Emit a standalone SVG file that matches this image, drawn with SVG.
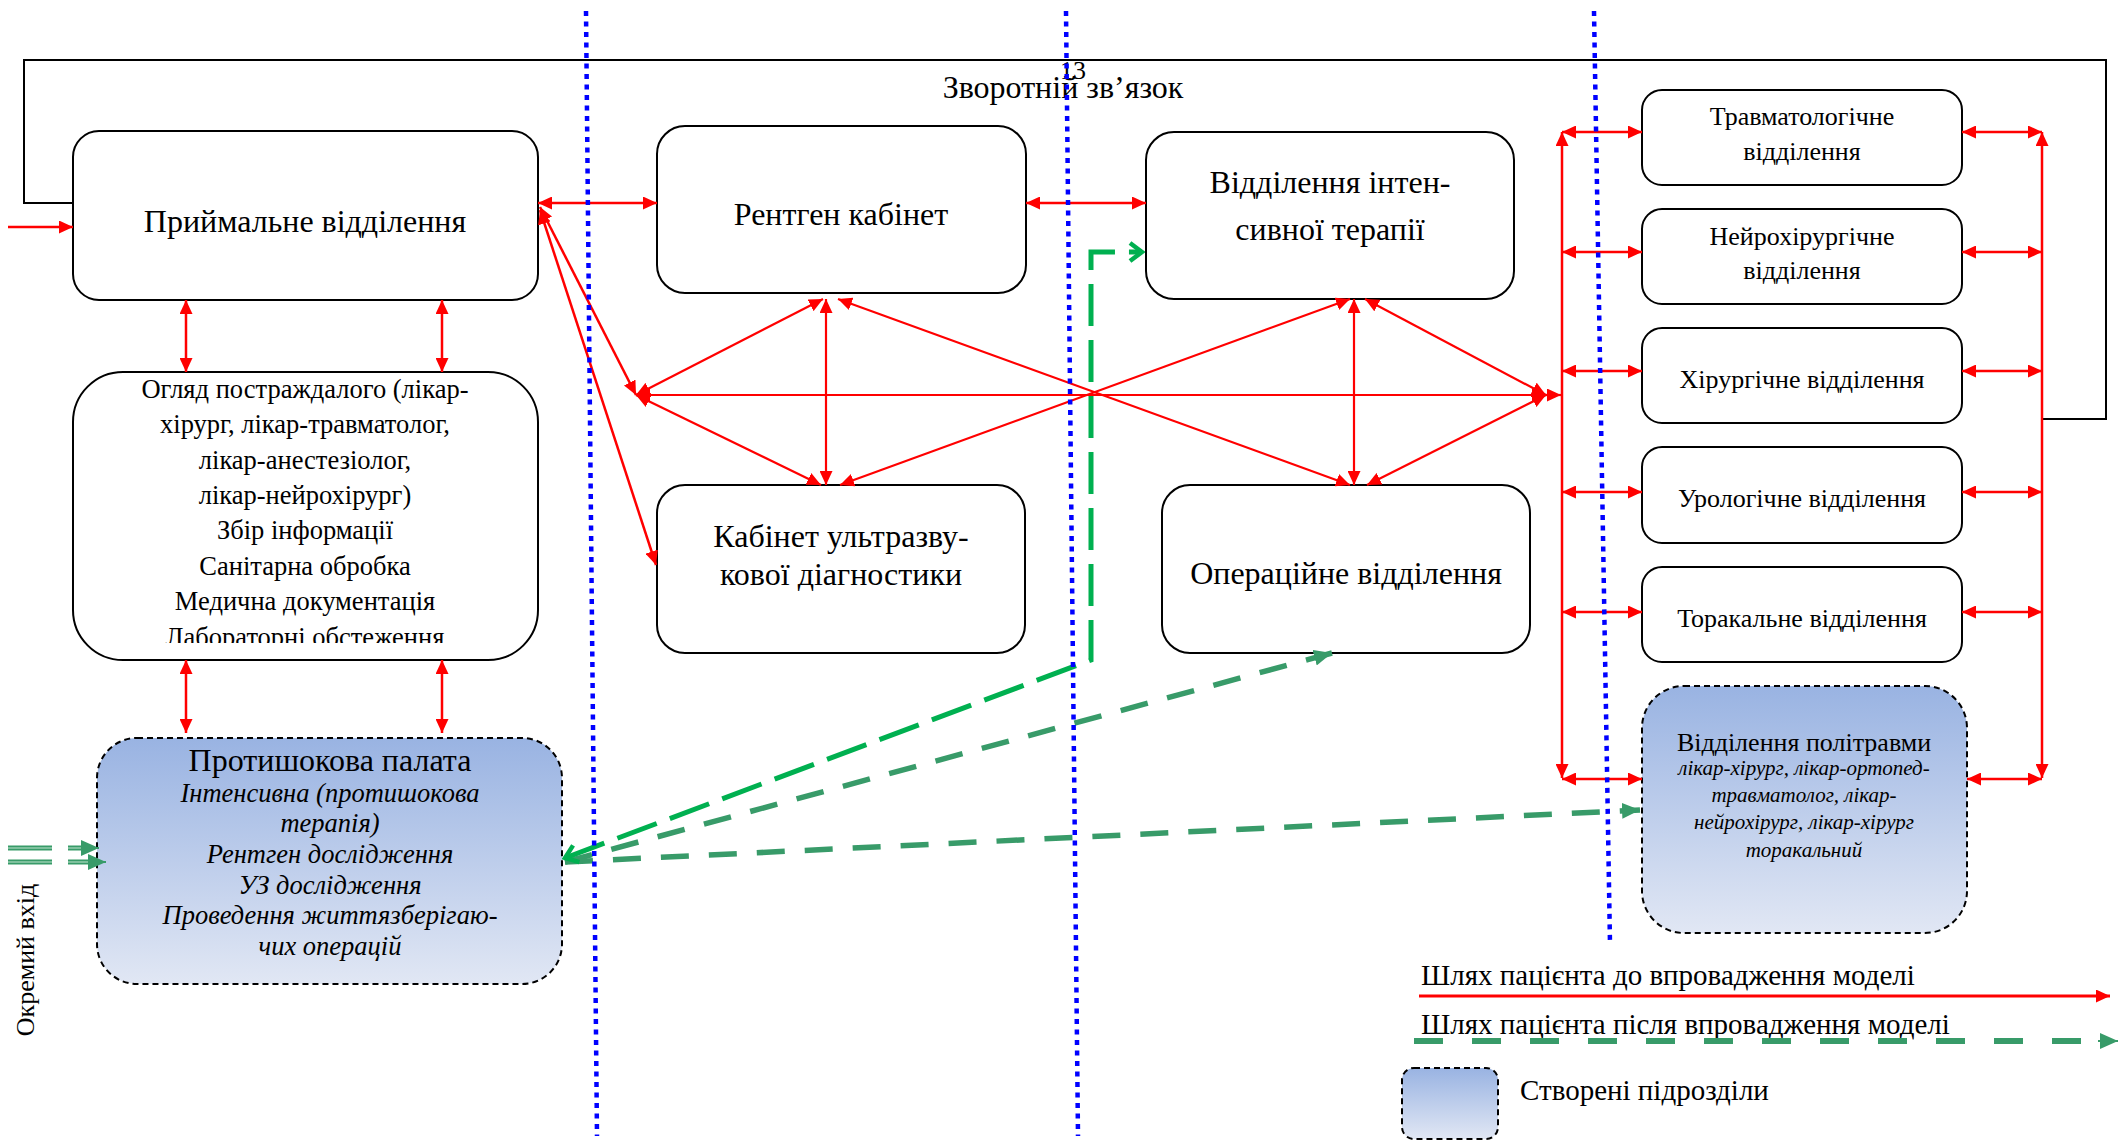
<svg xmlns="http://www.w3.org/2000/svg" width="2120" height="1142" viewBox="0 0 2120 1142">
<style>
text{font-family:"Liberation Serif","Times New Roman",serif;fill:#000}
.t32{font-size:32px;text-anchor:middle}
.t26{font-size:26px;text-anchor:middle}
.o26{font-size:26.5px;text-anchor:middle}
.i26{font-size:26.5px;text-anchor:middle;font-style:italic}
.i20{font-size:21px;text-anchor:middle;font-style:italic}
.leg{font-size:29px}
.box{fill:#fff;stroke:#000;stroke-width:2}
.nbox{stroke:#000;stroke-width:2;stroke-dasharray:6 4}
.red{fill:none;stroke:#ff0000;stroke-width:2.5;marker-start:url(#rh);marker-end:url(#rh)}
.red1{fill:none;stroke:#ff0000;stroke-width:2.5;marker-end:url(#rh)}
.blue{fill:none;stroke:#0000ff;stroke-width:4.5;stroke-dasharray:5 5.5}
</style>
<defs>
<linearGradient id="gr" x1="0" y1="0" x2="0" y2="1">
<stop offset="0" stop-color="#99b3e2"/>
<stop offset="1" stop-color="#e1e7f4"/>
</linearGradient>
<marker id="rh" viewBox="0 0 14 13" refX="14" refY="6.5" markerWidth="14" markerHeight="13" markerUnits="userSpaceOnUse" orient="auto-start-reverse"><path d="M0,0 L14,6.5 L0,13 z" fill="#ff0000"/></marker>
<marker id="gc" viewBox="0 0 18 22" refX="15" refY="11" markerWidth="18" markerHeight="22" markerUnits="userSpaceOnUse" orient="auto-start-reverse"><path d="M3,2 L15,11 L3,20" fill="none" stroke="#00b050" stroke-width="4.5"/></marker>
<marker id="sg" viewBox="0 0 18 16" refX="18" refY="8" markerWidth="18" markerHeight="16" markerUnits="userSpaceOnUse" orient="auto"><path d="M0,0 L18,8 L0,16 z" fill="#389b69"/></marker>
<clipPath id="clipO"><rect x="73" y="372" width="465" height="271"/></clipPath>
</defs>

<g id="feedback">
<path d="M73 203 H24 V60 H2106 V419 H2042" fill="none" stroke="#000" stroke-width="2"/>
<text x="1073" y="79" style="font-size:26px;text-anchor:middle">13</text>
<text class="t32" x="1063" y="98">Зворотній зв’язок</text>
</g>

<g id="node-reception">
<rect class="box" x="73" y="131" width="465" height="169" rx="26"/>
<text class="t32" x="305" y="232">Приймальне відділення</text>
</g>

<g id="node-exam">
<rect class="box" x="73" y="372" width="465" height="288" rx="50"/>
<g clip-path="url(#clipO)">
<text class="o26" x="305" y="398">Огляд постраждалого (лікар-</text>
<text class="o26" x="305" y="433">хірург, лікар-травматолог,</text>
<text class="o26" x="305" y="469">лікар-анестезіолог,</text>
<text class="o26" x="305" y="504">лікар-нейрохірург)</text>
<text class="o26" x="305" y="539">Збір інформації</text>
<text class="o26" x="305" y="575">Санітарна обробка</text>
<text class="o26" x="305" y="610">Медична документація</text>
<text class="o26" x="305" y="646">Лабораторні обстеження</text>
</g>
</g>

<g id="node-antishock">
<rect class="nbox" x="97" y="738" width="465" height="246" rx="40" fill="url(#gr)"/>
<text x="330" y="771" style="font-size:32px;text-anchor:middle">Протишокова палата</text>
<text class="i26" x="330" y="802">Інтенсивна (протишокова</text>
<text class="i26" x="330" y="832">терапія)</text>
<text class="i26" x="330" y="863">Рентген дослідження</text>
<text class="i26" x="330" y="894">УЗ дослідження</text>
<text class="i26" x="330" y="924">Проведення життязберігаю-</text>
<text class="i26" x="330" y="955">чих операцій</text>
</g>

<g id="node-xray">
<rect class="box" x="657" y="126" width="369" height="167" rx="28"/>
<text class="t32" x="841" y="225">Рентген кабінет</text>
</g>

<g id="node-icu">
<rect class="box" x="1146" y="132" width="368" height="167" rx="28"/>
<text class="t32" x="1330" y="193">Відділення інтен-</text>
<text class="t32" x="1330" y="240">сивної терапії</text>
</g>

<g id="node-us">
<rect class="box" x="657" y="485" width="368" height="168" rx="28"/>
<text class="t32" x="841" y="547">Кабінет ультразву-</text>
<text class="t32" x="841" y="585">кової діагностики</text>
</g>

<g id="node-or">
<rect class="box" x="1162" y="485" width="368" height="168" rx="28"/>
<text class="t32" x="1346" y="584">Операційне відділення</text>
</g>

<g id="node-trauma">
<rect class="box" x="1642" y="90" width="320" height="95" rx="20"/>
<text class="t26" x="1802" y="125">Травматологічне</text>
<text class="t26" x="1802" y="160">відділення</text>
</g>
<g id="node-neuro">
<rect class="box" x="1642" y="209" width="320" height="95" rx="20"/>
<text class="t26" x="1802" y="245">Нейрохірургічне</text>
<text class="t26" x="1802" y="279">відділення</text>
</g>
<g id="node-surg">
<rect class="box" x="1642" y="328" width="320" height="95" rx="20"/>
<text class="t26" x="1802" y="388">Хірургічне відділення</text>
</g>
<g id="node-uro">
<rect class="box" x="1642" y="447" width="320" height="96" rx="20"/>
<text class="t26" x="1802" y="507">Урологічне відділення</text>
</g>
<g id="node-thor">
<rect class="box" x="1642" y="567" width="320" height="95" rx="20"/>
<text class="t26" x="1802" y="627">Торакальне відділення</text>
</g>

<g id="node-polytrauma">
<rect class="nbox" x="1642" y="686" width="325" height="247" rx="42" fill="url(#gr)"/>
<text class="t26" x="1804" y="751">Відділення політравми</text>
<text class="i20" x="1804" y="775">лікар-хірург, лікар-ортопед-</text>
<text class="i20" x="1804" y="802">травматолог, лікар-</text>
<text class="i20" x="1804" y="829">нейрохірург, лікар-хірург</text>
<text class="i20" x="1804" y="857">торакальний</text>
</g>

<g id="connectors">
<path class="red1" d="M8 227 H73"/>
<path class="red" d="M186 300 V372"/>
<path class="red" d="M442 300 V372"/>
<path class="red" d="M186 660 V733"/>
<path class="red" d="M442 660 V733"/>
<path class="red" d="M538 203 H657"/>
<path class="red" d="M1026 203 H1146"/>
<path class="red" d="M540 207 L636 395"/>
<path class="red" d="M540 210 L656 565"/>
<path class="red" style="stroke-width:2.2" d="M636 395 L823 299"/>
<path class="red" style="stroke-width:2.2" d="M636 395 L821 485"/>
<path class="red" style="stroke-width:2.2" d="M636 395 H1546"/>
<path class="red1" style="stroke-width:2.2" d="M1546 395 H1561"/>
<path class="red" style="stroke-width:2.2" d="M826 299 V485"/>
<path class="red" style="stroke-width:2.2" d="M838 299 L1350 485"/>
<path class="red" style="stroke-width:2.2" d="M840 485 L1350 299"/>
<path class="red" style="stroke-width:2.2" d="M1354 299 V485"/>
<path class="red" style="stroke-width:2.2" d="M1365 299 L1546 395"/>
<path class="red" style="stroke-width:2.2" d="M1367 485 L1546 395"/>
<path class="red" d="M1562 132 V778"/>
<path class="red" d="M2042 132 V778"/>
<path class="red" d="M1562 132 H1642"/>
<path class="red" d="M1962 132 H2042"/>
<path class="red" d="M1562 252 H1642"/>
<path class="red" d="M1962 252 H2042"/>
<path class="red" d="M1562 371 H1642"/>
<path class="red" d="M1962 371 H2042"/>
<path class="red" d="M1562 492 H1642"/>
<path class="red" d="M1962 492 H2042"/>
<path class="red" d="M1562 612 H1642"/>
<path class="red" d="M1962 612 H2042"/>
<path class="red" d="M1562 779 H1642"/>
<path class="red" d="M1967 779 H2042"/>

<path d="M565 862 L1332 653" fill="none" stroke="#389b69" stroke-width="5.5" stroke-dasharray="28 20" marker-end="url(#sg)"/>
<path d="M565 862 L1640 810" fill="none" stroke="#389b69" stroke-width="5.5" stroke-dasharray="28 20" marker-end="url(#sg)"/>
<path d="M565 858 L1091 660 V252 H1142" fill="none" stroke="#00b050" stroke-width="5" stroke-dasharray="42 14" marker-start="url(#gc)" marker-end="url(#gc)"/>

<g id="separate-entry">
<path d="M8 848 H52 M68 848 H86" fill="none" stroke="#389b69" stroke-width="5"/>
<path d="M8 848 H52 M68 848 H86" fill="none" stroke="#c4e6d2" stroke-width="1"/>
<path d="M86 848 H99" fill="none" stroke="#389b69" stroke-width="2" marker-end="url(#sg)"/>
<path d="M8 862 H52 M68 862 H92" fill="none" stroke="#389b69" stroke-width="5"/>
<path d="M8 862 H52 M68 862 H92" fill="none" stroke="#c4e6d2" stroke-width="1"/>
<path d="M92 862 H106" fill="none" stroke="#389b69" stroke-width="2" marker-end="url(#sg)"/>
</g>
</g>

<text transform="translate(34,960) rotate(-90)" style="font-size:26px;text-anchor:middle">Окремий вхід</text>

<g id="legend">
<text class="leg" x="1421" y="985">Шлях пацієнта до впровадження моделі</text>
<path d="M1419 996 H2110" fill="none" stroke="#ff0000" stroke-width="3" marker-end="url(#rh)"/>
<text class="leg" x="1421" y="1034">Шлях пацієнта після впровадження моделі</text>
<path d="M1414 1041 H2100" fill="none" stroke="#389b69" stroke-width="6" stroke-dasharray="29 29"/>
<path d="M2098 1041 H2118" fill="none" stroke="#389b69" stroke-width="2" marker-end="url(#sg)"/>
<rect class="nbox" x="1402" y="1068" width="96" height="71" rx="12" fill="url(#gr)"/>
<text class="leg" x="1520" y="1100">Створені підрозділи</text>
</g>

<g id="swimlanes">
<path class="blue" d="M586 11 L597 1136"/>
<path class="blue" d="M1066 11 L1078 1136"/>
<path class="blue" d="M1594 11 L1610 944"/>
</g>
</svg>
